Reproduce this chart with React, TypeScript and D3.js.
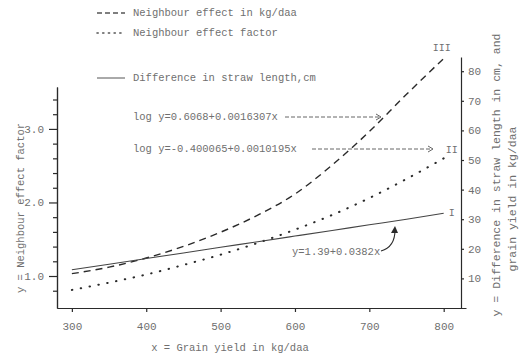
import React, { useEffect, useRef } from 'react';
import * as d3 from 'd3';

const yields = [300, 350, 400, 450, 500, 550, 600, 650, 700, 750, 800];
// II: neighbour effect factor (left axis)
const factorVals = [0.81, 0.91, 1.02, 1.15, 1.29, 1.45, 1.63, 1.83, 2.06, 2.32, 2.6];
// III: neighbour effect in kg/daa (right axis)
const kgVals = [11.6, 13.8, 16.9, 20.8, 25.6, 31.4, 38.5, 48.3, 59.6, 72.2, 84.3];
// I: difference in straw length, cm (right axis)
const strawVals = [12.9, 14.8, 16.7, 18.6, 20.5, 22.4, 24.3, 26.2, 28.1, 30.0, 32.0];

const xTicks = [300, 400, 500, 600, 700, 800];
const leftMajor = [1.0, 2.0, 3.0];
const leftMinor = [0.8, 1.2, 1.4, 1.6, 1.8, 2.2, 2.4, 2.6, 2.8, 3.2, 3.4];
const rightTicks = [10, 20, 30, 40, 50, 60, 70, 80];

const legendItems = [
  { label: 'Neighbour effect in kg/daa', dash: '5,3', width: 1.3 },
  { label: 'Neighbour effect factor', dash: '1.2,4.5', width: 1.6 },
  { label: 'Difference in straw length,cm', dash: null, width: 1 },
];

const FONT = '"Liberation Mono", "DejaVu Sans Mono", monospace';
const TXT = '#6f6f6f';
const INK = '#2a2a2a';

const App = () => {
  const svgRef = useRef(null);

  useEffect(() => {
    const svg = d3.select(svgRef.current);
    svg.selectAll('*').remove();

    const x = d3.scaleLinear().domain([280, 830]).range([57, 466]);
    const yL = d3.scaleLinear().domain([0.565, 3.57]).range([308, 87]);
    const yR = d3.scaleLinear().domain([0, 84.8]).range([308, 57]);

    // axes
    const styleAxis = (g) => {
      g.select('.domain').attr('stroke', INK).attr('stroke-width', 1.2);
      g.selectAll('.tick line').attr('stroke', INK).attr('stroke-width', 1.2);
      g.selectAll('.tick text').attr('fill', TXT).style('font-family', FONT).style('font-size', '11px');
    };

    svg.append('g')
      .attr('transform', 'translate(0,308)')
      .call(d3.axisBottom(x).tickValues(xTicks).tickSize(4).tickPadding(10).tickSizeOuter(0).tickFormat(d3.format('d')))
      .call(styleAxis);

    svg.append('g')
      .attr('transform', 'translate(57,0)')
      .call(d3.axisLeft(yL).tickValues(leftMinor).tickSize(4).tickSizeOuter(0).tickFormat(() => ''))
      .call(styleAxis);
    svg.append('g')
      .attr('transform', 'translate(57,0)')
      .call(d3.axisLeft(yL).tickValues(leftMajor).tickSize(8).tickPadding(5).tickSizeOuter(0).tickFormat(d3.format('.1f')))
      .call(styleAxis);

    svg.append('g')
      .attr('transform', 'translate(461,0)')
      .call(d3.axisRight(yR).tickValues(rightTicks).tickSize(3).tickPadding(4).tickSizeOuter(0))
      .call(styleAxis);

    // curves
    const lineL = d3.line().x((d, i) => x(yields[i])).y((d) => yL(d)).curve(d3.curveMonotoneX);
    const lineR = d3.line().x((d, i) => x(yields[i])).y((d) => yR(d)).curve(d3.curveMonotoneX);

    svg.append('path').attr('d', lineR(kgVals)).attr('fill', 'none')
      .attr('stroke', INK).attr('stroke-width', 1.4).attr('stroke-dasharray', '7,5');
    svg.append('path').attr('d', lineL(factorVals)).attr('fill', 'none')
      .attr('stroke', INK).attr('stroke-width', 2).attr('stroke-linecap', 'round').attr('stroke-dasharray', '0.5,8.5');
    svg.append('path').attr('d', lineR(strawVals)).attr('fill', 'none')
      .attr('stroke', '#444').attr('stroke-width', 1.1);

    const text = (tx, ty, s, size = 10.5, anchor = 'start') =>
      svg.append('text').attr('x', tx).attr('y', ty).attr('text-anchor', anchor)
        .attr('dominant-baseline', 'middle').attr('fill', TXT)
        .style('font-family', FONT).style('font-size', `${size}px`).text(s);

    // curve labels
    const last = yields.length - 1;
    text(x(yields[last]) - 2, yR(kgVals[last]) - 10, 'III', 10, 'middle');
    text(x(yields[last]) + 2, yL(factorVals[last]) - 8, 'II', 10, 'start');
    text(x(yields[last]) + 5, yR(strawVals[last]), 'I', 10, 'start');

    // equations with dashed arrows
    const arrow = (x1, x2, ay) => {
      svg.append('line').attr('x1', x1).attr('x2', x2 - 2).attr('y1', ay).attr('y2', ay)
        .attr('stroke', '#555').attr('stroke-width', 0.9).attr('stroke-dasharray', '4,2');
      svg.append('path').attr('d', `M${x2 - 5},${ay - 3} L${x2},${ay} L${x2 - 5},${ay + 3}`)
        .attr('fill', 'none').attr('stroke', '#555').attr('stroke-width', 0.9);
    };
    text(133, 117, 'log y=0.6068+0.0016307x');
    arrow(285, 381, 117);
    text(133, 149, 'log y=-0.400065+0.0010195x');
    arrow(312, 433, 149);

    text(292, 252, 'y=1.39+0.0382x');
    svg.append('path').attr('d', 'M381,251 Q395,247 395,230')
      .attr('fill', 'none').attr('stroke', INK).attr('stroke-width', 1.1);
    svg.append('path').attr('d', 'M391,233 L395,226 L398,233 Z').attr('fill', INK);

    // legend
    legendItems.forEach((d, i) => {
      const ly = [13, 33, 78][i];
      const l = svg.append('line').attr('x1', 97).attr('x2', 125).attr('y1', ly).attr('y2', ly)
        .attr('stroke', '#555').attr('stroke-width', d.width).attr('stroke-linecap', d.dash && i === 1 ? 'round' : 'butt');
      if (d.dash) l.attr('stroke-dasharray', d.dash);
      text(133, ly, d.label);
    });

    // axis titles
    text(230, 348, 'x = Grain yield in kg/daa', 10.5, 'middle');
    svg.append('text').attr('transform', 'translate(21,208) rotate(-90)')
      .attr('text-anchor', 'middle').attr('dominant-baseline', 'middle').attr('fill', TXT)
      .style('font-family', FONT).style('font-size', '10.5px').text('y = Neighbour effect factor');
    svg.append('text').attr('transform', 'translate(497,175) rotate(-90)')
      .attr('text-anchor', 'middle').attr('dominant-baseline', 'middle').attr('fill', TXT)
      .style('font-family', FONT).style('font-size', '11.5px').text('y = Difference in straw length in cm, and');
    svg.append('text').attr('transform', 'translate(513,199) rotate(-90)')
      .attr('text-anchor', 'middle').attr('dominant-baseline', 'middle').attr('fill', TXT)
      .style('font-family', FONT).style('font-size', '11.5px').text('grain yield in kg/daa');
  }, []);

  return (
    <svg ref={svgRef} width={519} height={358}
      style={{ position: 'absolute', left: 0, top: 0, background: '#fff' }} />
  );
};

export default App;
